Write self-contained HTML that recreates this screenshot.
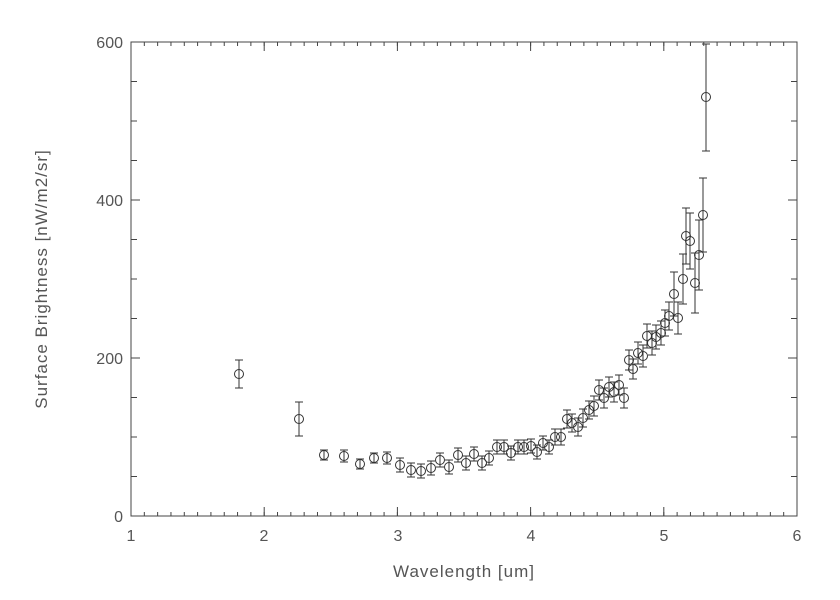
<!DOCTYPE html>
<html><head><meta charset="utf-8"><style>body{margin:0;background:#fff}svg{display:block}text{font-family:"Liberation Sans",sans-serif;fill:#555}</style></head>
<body>
<svg width="840" height="600" viewBox="0 0 840 600" xmlns="http://www.w3.org/2000/svg">
<rect x="131" y="42" width="666" height="474" fill="none" stroke="#444" stroke-width="1"/>
<g stroke="#444" fill="none">
<line x1="130.5" y1="514" x2="798" y2="514" stroke-width="4" stroke-dasharray="1 12.32"/>
<line x1="130.5" y1="44" x2="798" y2="44" stroke-width="4" stroke-dasharray="1 12.32"/>
<line x1="130.5" y1="511.5" x2="798" y2="511.5" stroke-width="9" stroke-dasharray="1 132.2"/>
<line x1="130.5" y1="46.5" x2="798" y2="46.5" stroke-width="9" stroke-dasharray="1 132.2"/>
<line x1="134" y1="516.5" x2="134" y2="41" stroke-width="6" stroke-dasharray="1 38.5"/>
<line x1="794" y1="516.5" x2="794" y2="41" stroke-width="6" stroke-dasharray="1 38.5"/>
<line x1="135.5" y1="516.5" x2="135.5" y2="41" stroke-width="9" stroke-dasharray="1 157"/>
<line x1="792.5" y1="516.5" x2="792.5" y2="41" stroke-width="9" stroke-dasharray="1 157"/>
</g>
<g font-size="16" text-anchor="middle">
<text x="131" y="541">1</text><text x="264" y="541">2</text><text x="398" y="541">3</text><text x="531" y="541">4</text><text x="664" y="541">5</text><text x="797" y="541">6</text>
</g>
<g font-size="16" text-anchor="end">
<text x="123" y="522">0</text><text x="123" y="364">200</text><text x="123" y="206">400</text><text x="123" y="48">600</text>
</g>
<text x="464" y="577" font-size="17" text-anchor="middle" letter-spacing="1">Wavelength [um]</text>
<text transform="translate(47,279) rotate(-90)" font-size="17" text-anchor="middle" letter-spacing="1">Surface Brightness [nW/m2/sr]</text>
<g stroke="#333" stroke-width="1" fill="none">
<circle cx="239" cy="374" r="4.5"/><path d="M239 360V388M235 360h8M235 388h8"/>
<circle cx="299" cy="419" r="4.5"/><path d="M299 402V436M295 402h8M295 436h8"/>
<circle cx="324" cy="455" r="4.5"/><path d="M324 450V460M320 450h8M320 460h8"/>
<circle cx="344" cy="456" r="4.5"/><path d="M344 450V462M340 450h8M340 462h8"/>
<circle cx="360" cy="464" r="4.5"/><path d="M360 459V469M356 459h8M356 469h8"/>
<circle cx="374" cy="458" r="4.5"/><path d="M374 453V463M370 453h8M370 463h8"/>
<circle cx="387" cy="458" r="4.5"/><path d="M387 452V464M383 452h8M383 464h8"/>
<circle cx="400" cy="465" r="4.5"/><path d="M400 458V472M396 458h8M396 472h8"/>
<circle cx="411" cy="470" r="4.5"/><path d="M411 463V477M407 463h8M407 477h8"/>
<circle cx="421" cy="471" r="4.5"/><path d="M421 464V478M417 464h8M417 478h8"/>
<circle cx="431" cy="468" r="4.5"/><path d="M431 461V475M427 461h8M427 475h8"/>
<circle cx="440" cy="460" r="4.5"/><path d="M440 453V467M436 453h8M436 467h8"/>
<circle cx="449" cy="467" r="4.5"/><path d="M449 460V474M445 460h8M445 474h8"/>
<circle cx="458" cy="455" r="4.5"/><path d="M458 448V462M454 448h8M454 462h8"/>
<circle cx="466" cy="463" r="4.5"/><path d="M466 456V470M462 456h8M462 470h8"/>
<circle cx="474" cy="454" r="4.5"/><path d="M474 447V461M470 447h8M470 461h8"/>
<circle cx="482" cy="463" r="4.5"/><path d="M482 456V470M478 456h8M478 470h8"/>
<circle cx="489" cy="458" r="4.5"/><path d="M489 451V465M485 451h8M485 465h8"/>
<circle cx="497" cy="447" r="4.5"/><path d="M497 440V454M493 440h8M493 454h8"/>
<circle cx="504" cy="447" r="4.5"/><path d="M504 440V454M500 440h8M500 454h8"/>
<circle cx="511" cy="453" r="4.5"/><path d="M511 446V460M507 446h8M507 460h8"/>
<circle cx="518" cy="447" r="4.5"/><path d="M518 440V454M514 440h8M514 454h8"/>
<circle cx="524" cy="447" r="4.5"/><path d="M524 440V454M520 440h8M520 454h8"/>
<circle cx="531" cy="446" r="4.5"/><path d="M531 439V453M527 439h8M527 453h8"/>
<circle cx="537" cy="452" r="4.5"/><path d="M537 445V459M533 445h8M533 459h8"/>
<circle cx="543" cy="443" r="4.5"/><path d="M543 436V450M539 436h8M539 450h8"/>
<circle cx="549" cy="447" r="4.5"/><path d="M549 440V454M545 440h8M545 454h8"/>
<circle cx="555" cy="437" r="4.5"/><path d="M555 429V445M551 429h8M551 445h8"/>
<circle cx="561" cy="437" r="4.5"/><path d="M561 429V445M557 429h8M557 445h8"/>
<circle cx="567" cy="419" r="4.5"/><path d="M567 410V428M563 410h8M563 428h8"/>
<circle cx="572" cy="423" r="4.5"/><path d="M572 414V432M568 414h8M568 432h8"/>
<circle cx="578" cy="427" r="4.5"/><path d="M578 418V436M574 418h8M574 436h8"/>
<circle cx="583" cy="418" r="4.5"/><path d="M583 409V427M579 409h8M579 427h8"/>
<circle cx="589" cy="410" r="4.5"/><path d="M589 401V419M585 401h8M585 419h8"/>
<circle cx="594" cy="406" r="4.5"/><path d="M594 396V416M590 396h8M590 416h8"/>
<circle cx="599" cy="390" r="4.5"/><path d="M599 380V400M595 380h8M595 400h8"/>
<circle cx="604" cy="398" r="4.5"/><path d="M604 388V408M600 388h8M600 408h8"/>
<circle cx="609" cy="387" r="4.5"/><path d="M609 377V397M605 377h8M605 397h8"/>
<circle cx="614" cy="392" r="4.5"/><path d="M614 382V402M610 382h8M610 402h8"/>
<circle cx="619" cy="385" r="4.5"/><path d="M619 375V395M615 375h8M615 395h8"/>
<circle cx="624" cy="398" r="4.5"/><path d="M624 388V408M620 388h8M620 408h8"/>
<circle cx="629" cy="360" r="4.5"/><path d="M629 350V370M625 350h8M625 370h8"/>
<circle cx="633" cy="369" r="4.5"/><path d="M633 359V379M629 359h8M629 379h8"/>
<circle cx="638" cy="353" r="4.5"/><path d="M638 342V364M634 342h8M634 364h8"/>
<circle cx="643" cy="356" r="4.5"/><path d="M643 345V367M639 345h8M639 367h8"/>
<circle cx="647" cy="336" r="4.5"/><path d="M647 324V348M643 324h8M643 348h8"/>
<circle cx="652" cy="343" r="4.5"/><path d="M652 331V355M648 331h8M648 355h8"/>
<circle cx="656" cy="337" r="4.5"/><path d="M656 325V349M652 325h8M652 349h8"/>
<circle cx="661" cy="333" r="4.5"/><path d="M661 321V345M657 321h8M657 345h8"/>
<circle cx="665" cy="323" r="4.5"/><path d="M665 310V336M661 310h8M661 336h8"/>
<circle cx="669" cy="316" r="4.5"/><path d="M669 302V330M665 302h8M665 330h8"/>
<circle cx="674" cy="294" r="4.5"/><path d="M674 272V316M670 272h8M670 316h8"/>
<circle cx="678" cy="318" r="4.5"/><path d="M678 302V334M674 302h8M674 334h8"/>
<circle cx="683" cy="279" r="4.5"/><path d="M683 254V304M679 254h8M679 304h8"/>
<circle cx="686" cy="236" r="4.5"/><path d="M686 208V264M682 208h8M682 264h8"/>
<circle cx="690" cy="241" r="4.5"/><path d="M690 213V269M686 213h8M686 269h8"/>
<circle cx="695" cy="283" r="4.5"/><path d="M695 253V313M691 253h8M691 313h8"/>
<circle cx="699" cy="255" r="4.5"/><path d="M699 220V290M695 220h8M695 290h8"/>
<circle cx="703" cy="215" r="4.5"/><path d="M703 178V252M699 178h8M699 252h8"/>
<circle cx="706" cy="97" r="4.5"/><path d="M706 44V151M702 44h8M702 151h8"/>
</g>
</svg>
</body></html>
